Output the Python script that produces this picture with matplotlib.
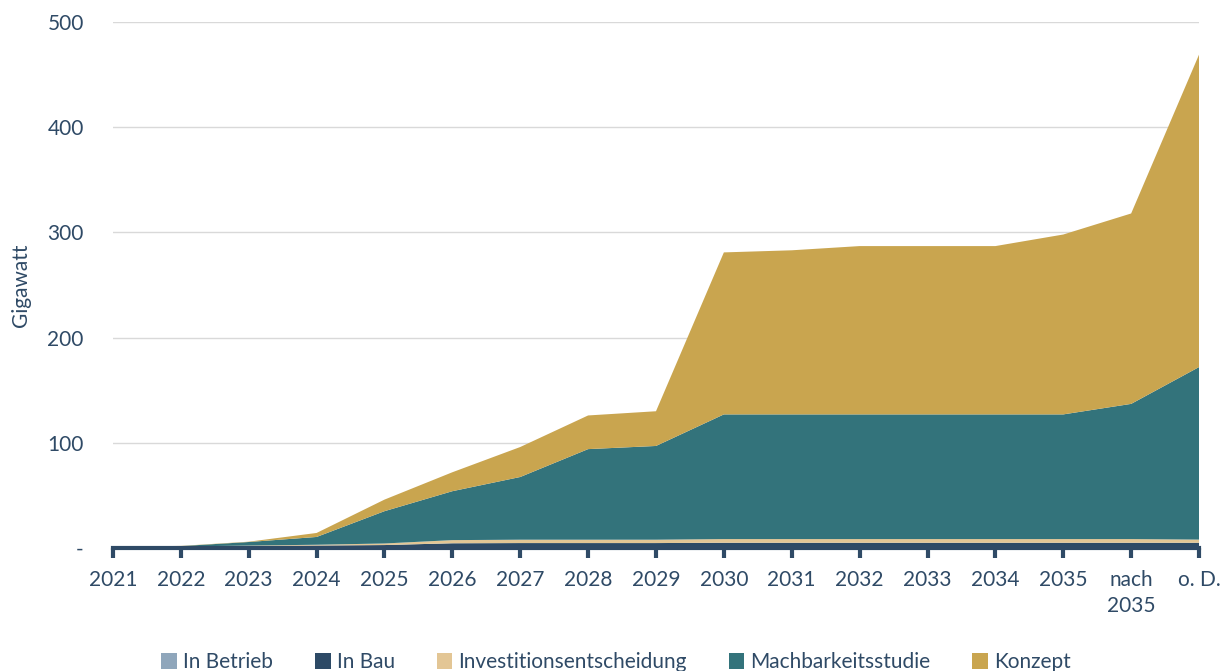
import matplotlib
matplotlib.use("Agg")
import matplotlib.pyplot as plt
from matplotlib.patches import Patch
import numpy as np

categories = ["2021", "2022", "2023", "2024", "2025", "2026", "2027", "2028",
              "2029", "2030", "2031", "2032", "2033", "2034", "2035",
              "nach\n2035", "o. D."]
in_betrieb = [0.3, 0.3, 0.3, 0.3, 0.3, 0.5, 0.5, 0.5, 0.5, 0.5, 0.5, 0.5, 0.5, 0.5, 0.5, 0.5, 0.5]
in_bau = [0.5, 1.0, 1.5, 2.0, 2.5, 4.0, 4.2, 4.2, 4.2, 4.5, 4.5, 4.5, 4.5, 4.5, 4.5, 4.5, 4.5]
investition = [0.0, 0.2, 0.5, 0.8, 1.5, 3.0, 3.2, 3.2, 3.2, 3.5, 3.5, 3.5, 3.5, 3.5, 3.5, 3.5, 3.0]
machbarkeit = [0.2, 0.3, 3.4, 7.4, 30.7, 46.5, 59.6, 86.1, 89.1, 118.5, 118.5, 118.5, 118.5, 118.5, 118.5, 128.5, 164.0]
konzept = [0.2, 0.2, 0.3, 3.8, 11.0, 18.0, 28.5, 32.0, 33.0, 154.0, 156.0, 160.0, 160.0, 160.0, 171.0, 181.0, 297.0]

series_names = ["In Betrieb", "In Bau", "Investitionsentscheidung", "Machbarkeitsstudie", "Konzept"]
colors = ["#8fa6bb", "#2d4a66", "#e3c695", "#33737b", "#c9a54f"]
text_color = "#2f4a66"

plt.rcParams['font.family'] = ['Lato', 'DejaVu Sans']
fs = 15

fig = plt.figure(figsize=(12.25, 6.71), dpi=100)
ax = fig.add_axes([0.0922, 0.1833, 0.8866, 0.7839])

x = np.arange(len(categories))
ax.stackplot(x, in_betrieb, in_bau, investition, machbarkeit, konzept,
             colors=colors, linewidth=0, zorder=2)

ax.set_xlim(0, len(categories) - 1)
ax.set_ylim(0, 500)
ax.set_yticks([0, 100, 200, 300, 400, 500])
ax.set_yticklabels(["-", "100", "200", "300", "400", "500"])
ax.grid(axis='y', color="#d9d9d9", linewidth=1, zorder=0)
ax.set_axisbelow(True)

for s in ["top", "right", "left"]:
    ax.spines[s].set_visible(False)
ax.spines["bottom"].set_color(text_color)
ax.spines["bottom"].set_linewidth(3)
ax.spines["bottom"].set_zorder(5)

ax.set_xticks(x)
ax.set_xticklabels(categories, linespacing=1.35)
ax.tick_params(axis='x', colors=text_color, length=7, width=3, labelsize=fs, pad=9, labelcolor=text_color)
ax.tick_params(axis='y', length=0, labelsize=fs, labelcolor=text_color, pad=21)

ax.set_ylabel("Gigawatt", fontsize=fs, color=text_color)
ax.yaxis.set_label_coords(-0.075, 0.5)

handles = [Patch(facecolor=c, edgecolor='none') for c in colors]
fig.legend(handles, series_names, loc='lower center', bbox_to_anchor=(0.503, -0.03),
           ncol=5, frameon=False, fontsize=fs, handlelength=0.75, handleheight=0.75,
           handletextpad=0.3, columnspacing=2.0, labelcolor=text_color)

fig.savefig("out.png", dpi=100)
